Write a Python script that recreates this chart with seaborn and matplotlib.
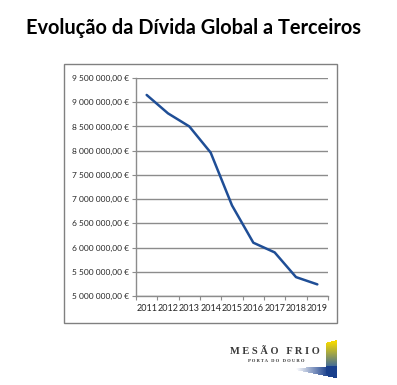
import numpy as np
import pandas as pd
import seaborn as sns
import matplotlib.pyplot as plt
from matplotlib.patches import Rectangle

# data
anos = ["2011", "2012", "2013", "2014", "2015", "2016", "2017", "2018", "2019"]
divida = [9150000, 8770000, 8500000, 7960000, 6870000, 6100000, 5900000, 5390000, 5240000]
yticks = [5000000, 5500000, 6000000, 6500000, 7000000, 7500000, 8000000, 8500000, 9000000, 9500000]

sns.set_style("white")
plt.rcParams['font.family'] = ['Lato', 'DejaVu Sans']

W, H = 397, 385
fig = plt.figure(figsize=(W / 100, H / 100), dpi=100)

# title
fig.text(194 / W, 1 - 28 / H, "Evolução da Dívida Global a Terceiros", ha="center", va="center",
         fontsize=14.4, fontweight="bold", color="black")

# chart frame
fig.patches.append(Rectangle((64 / W, 1 - 323 / H), 273 / W, 259 / H,
                             transform=fig.transFigure, fill=False,
                             edgecolor="#808080", linewidth=1))

ax = fig.add_axes([136 / W, 1 - 296 / H, 192 / W, 218 / H])
df = pd.DataFrame({"pos": np.arange(len(anos)), "valor": divida})
sns.lineplot(data=df, x="pos", y="valor", ax=ax, color="#1f4e96", linewidth=1.8)

ax.set_xlim(-0.5, len(anos) - 0.5)
ax.set_ylim(yticks[0], yticks[-1])
ax.set_yticks(yticks)
ax.set_yticklabels([f"{v:,.2f}".replace(",", " ").replace(".", ",") + " €" for v in yticks],
                   fontsize=6)
ax.yaxis.grid(True, color="#8c8c8c", linewidth=1)
ax.tick_params(axis="y", length=3, color="#8c8c8c", pad=2, left=True)

ax.set_xticks(np.arange(-0.5, len(anos), 1))
ax.set_xticklabels([])
ax.set_xticks(np.arange(len(anos)), minor=True)
ax.set_xticklabels(anos, minor=True, fontsize=6.5)
ax.tick_params(axis="x", which="major", length=3, color="#8c8c8c", bottom=True)
ax.tick_params(axis="x", which="minor", length=0, pad=6)

ax.set_xlabel("")
ax.set_ylabel("")
for s in ["top", "right"]:
    ax.spines[s].set_visible(False)
for s in ["left", "bottom"]:
    ax.spines[s].set_color("#8c8c8c")
    ax.spines[s].set_linewidth(1)

# logo
fig.text(275 / W, 1 - 351.5 / H, "M E S Ã O   F R I O", ha="center", va="center",
         fontsize=7.5, fontweight="bold", color="#3a3a3a", family="Liberation Serif")
fig.text(276 / W, 1 - 360.5 / H, "P O R T A   D O   D O U R O", ha="center", va="center",
         fontsize=3.3, fontweight="bold", color="#3a3a3a", family="Liberation Serif")

# gradient corner mark, built in pixel coordinates
x0, x1, y0, y1 = 290, 340, 336, 382
xx, yy = np.meshgrid(np.arange(x0, x1) + 0.5, np.arange(y0, y1) + 0.5)
img = np.zeros((y1 - y0, x1 - x0, 4))
yellow = np.array([0.96, 0.85, 0.0])
blue = np.array([0.16, 0.36, 0.68])
dark = np.array([0.10, 0.25, 0.55])
# vertical bar
bar = (xx >= 326) & (xx <= 337) & (yy >= 340 + (337 - xx) * 0.25) & (yy <= 374)
t = np.clip((yy - 342) / 28, 0, 1)[..., None]
col = yellow * (1 - t) + blue * t
img[bar, :3] = col[bar]
img[bar, 3] = 1
# bottom wedge
wedge = (xx >= 296) & (xx <= 337) & (yy >= 368 - (xx - 296) * 0.05) & (yy <= 370 + (xx - 296) * 0.2)
a = np.clip((xx - 296) / 32, 0, 1)
img[wedge, :3] = dark
img[wedge, 3] = np.maximum(img[wedge, 3], a[wedge])
lax = fig.add_axes([x0 / W, 1 - y1 / H, (x1 - x0) / W, (y1 - y0) / H])
lax.imshow(img, extent=[0, 1, 0, 1], aspect="auto", interpolation="bilinear")
lax.axis("off")

fig.savefig("out.png", dpi=100)
